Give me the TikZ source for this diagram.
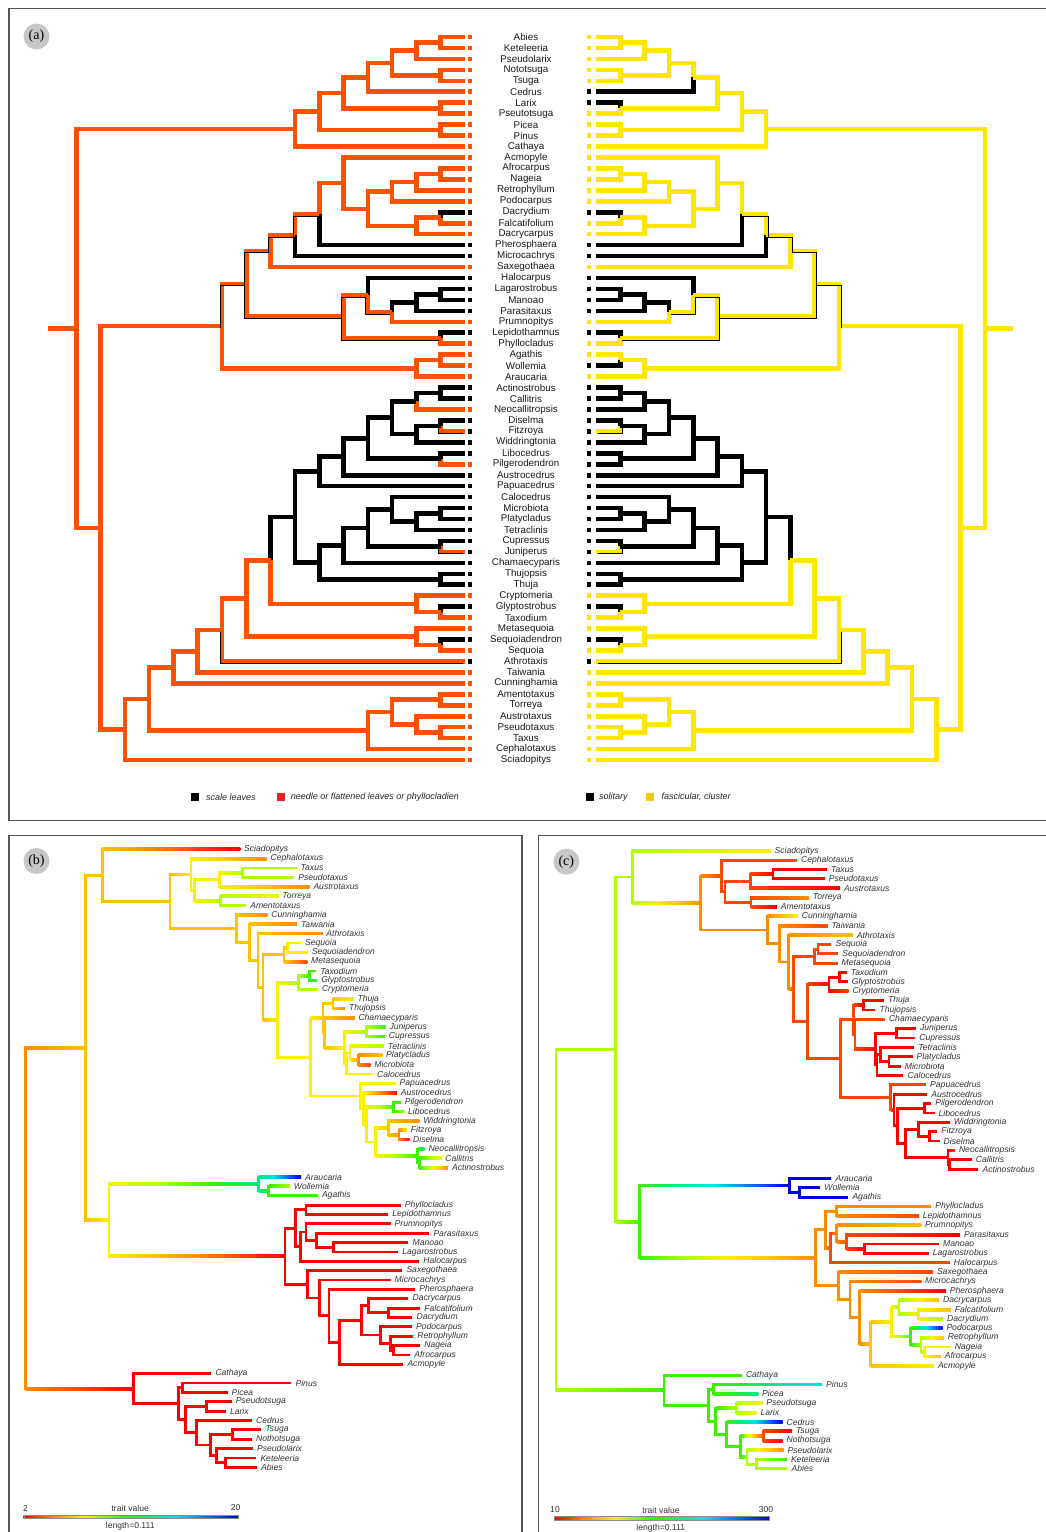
\documentclass[tikz,border=0pt]{standalone}
\usepackage{fontspec}
\setmainfont{Liberation Serif}
\setsansfont{Liberation Sans}

% colours
\definecolor{needle}{RGB}{255,82,0}
\definecolor{fasc}{RGB}{255,230,0}
\definecolor{needlekey}{RGB}{232,32,40}
\definecolor{fasckey}{RGB}{242,200,20}
\definecolor{framegray}{RGB}{85,85,85}
\definecolor{pal0}{RGB}{255,0,0}
\definecolor{pal1}{RGB}{255,70,0}
\definecolor{pal2}{RGB}{255,140,0}
\definecolor{pal3}{RGB}{255,195,0}
\definecolor{pal4}{RGB}{250,240,0}
\definecolor{pal5}{RGB}{175,255,0}
\definecolor{pal6}{RGB}{60,240,0}
\definecolor{pal7}{RGB}{0,235,130}
\definecolor{pal8}{RGB}{0,225,235}
\definecolor{pal9}{RGB}{0,110,245}
\definecolor{pal10}{RGB}{0,0,230}
\pgfdeclarehorizontalshading{rainbowbar}{100bp}{color(0bp)=(pal0); color(25bp)=(pal0); color(32bp)=(pal2); color(39bp)=(pal4); color(48bp)=(pal6); color(60bp)=(pal8); color(75bp)=(pal10); color(100bp)=(pal10)}

\makeatletter
\newcommand\tiplist{}
\newcommand\edgelist{}
% a tip: key, row in (a), label in (a), x in (b), colour step in (b), (c), state left, right
\newcommand\taxon[8]{%
  \@namedef{I#1}{#2}\@namedef{K#1}{0}\@namedef{LA#1}{#3}%
  \@namedef{XB#1}{#4}\@namedef{VB#1}{#5}\@namedef{VC#1}{#6}%
  \@namedef{SL#1}{#7}\@namedef{SR#1}{#8}%
  \g@addto@macro\tiplist{\dotip{#1}}}
% an inner node: name, two children, x in (b), colour steps, states
\newcommand\clade[8]{%
  \pgfmathsetmacro\tmpv{(\@nameuse{I#2}+\@nameuse{I#3})/2}%
  \expandafter\let\csname I#1\endcsname\tmpv
  \pgfmathsetmacro\tmpv{max(\@nameuse{K#2},\@nameuse{K#3})+1}%
  \expandafter\let\csname K#1\endcsname\tmpv
  \@namedef{XB#1}{#4}\@namedef{VB#1}{#5}\@namedef{VC#1}{#6}%
  \@namedef{SL#1}{#7}\@namedef{SR#1}{#8}%
  \g@addto@macro\edgelist{\doedge{#1}{#2}\doedge{#1}{#3}}}

\def\colLo{needle}\def\colLk{black}\def\colLt{needle}
\def\colRy{fasc}\def\colRk{black}\def\colRt{fasc}
\def\sqo{needle}\def\sqy{fasc}\def\sqk{black}\def\sqt{black}

% panel (a): cladogram edge
\newcommand\aedge[3]{%
  \pgfmathsetmacro\xp{465-24.3*\@nameuse{K#1}}%
  \pgfmathsetmacro\yp{37+10.955*\@nameuse{I#1}}%
  \pgfmathsetmacro\xc{465-24.3*\@nameuse{K#2}}%
  \pgfmathsetmacro\yc{37+10.955*\@nameuse{I#2}}%
  \edef\brst{\@nameuse{S#3#2}}\edef\brcol{\@nameuse{col#3\brst}}%
  \draw[abranch, draw=\brcol] (\xp,\yp) -- (\xp,\yc) -- (\xc,\yc);}
\newcommand\athin[3]{%
  \edef\brst{\@nameuse{S#3#2}}%
  \if t\brst
    \pgfmathsetmacro\xp{465-24.3*\@nameuse{K#1}}%
    \pgfmathsetmacro\yp{37+10.955*\@nameuse{I#1}}%
    \pgfmathsetmacro\xc{465-24.3*\@nameuse{K#2}}%
    \pgfmathsetmacro\yc{37+10.955*\@nameuse{I#2}}%
    \draw[athinline, xshift=-2pt, yshift=-1.8pt] (\xp,\yp) -- (\xp,\yc) -- (\xc,\yc);
  \fi}
\newcommand\atip[1]{%
  \pgfmathsetmacro\yc{37+10.955*\@nameuse{I#1}}%
  \node[alabel] (a#1) at (526,\yc) {\@nameuse{LA#1}};
  \edef\brst{\@nameuse{SL#1}}\edef\brcol{\@nameuse{sq\brst}}%
  \fill[fill=\brcol] (467.8,{\yc-2.3}) rectangle (472.4,{\yc+2.3});
  \edef\brst{\@nameuse{SR#1}}\edef\brcol{\@nameuse{sq\brst}}%
  \fill[fill=\brcol] (586.6,{\yc-2.3}) rectangle (591.2,{\yc+2.3});}

% panels (b), (c): phylogram edge shaded step by step
\newcommand\bedge[3]{%
  \pgfmathsetmacro\xp{\@nameuse{XB#1}}%
  \pgfmathsetmacro\yp{1467.3-9.364*\@nameuse{I#1}}%
  \pgfmathsetmacro\xc{\@nameuse{XB#2}}%
  \pgfmathsetmacro\yc{1467.3-9.364*\@nameuse{I#2}}%
  \edef\cva{\@nameuse{#3#1}}\edef\cvb{\@nameuse{#3#2}}%
  \draw[bbranch, draw=pal\cva] (\xp,\yp) -- (\xp,\yc);
  \pgfmathtruncatemacro\nst{abs(\cvb-\cva)}%
  \ifnum\nst=0
    \fill[fill=pal\cva] (\xp,{\yc-1.4}) rectangle (\xc,{\yc+1.4});
  \else
    \pgfmathtruncatemacro\sgn{ifthenelse(\cvb>\cva,1,-1)}%
    \foreach \s in {1,...,\nst}{%
      \pgfmathsetmacro\xa{\xp+(\s-1)*(\xc-\xp)/\nst}%
      \pgfmathsetmacro\xz{\xp+\s*(\xc-\xp)/\nst}%
      \pgfmathtruncatemacro\ca{\cva+(\s-1)*\sgn}%
      \pgfmathtruncatemacro\cz{\cva+\s*\sgn}%
      \shade[left color=pal\ca, right color=pal\cz] (\xa,{\yc-1.4}) rectangle ({\xz+0.3},{\yc+1.4});
    }%
  \fi}
\newcommand\btip[2]{%
  \pgfmathsetmacro\xc{\@nameuse{XB#2}+4}%
  \pgfmathsetmacro\yc{1467.3-9.364*\@nameuse{I#2}}%
  \node[blabel] (#1#2) at (\xc,\yc) {#2};}
\makeatother

% tips
\taxon{Abies}{0}{Abies}{256.9}{0}{5}{o}{y}
\taxon{Keteleeria}{1}{Keteleeria}{256.3}{0}{6}{o}{y}
\taxon{Pseudolarix}{2}{Pseudolarix}{252.9}{0}{2}{o}{y}
\taxon{Nothotsuga}{3}{Nototsuga}{251.9}{0}{0}{o}{y}
\taxon{Tsuga}{4}{Tsuga}{261.3}{0}{0}{o}{y}
\taxon{Cedrus}{5}{Cedrus}{251.9}{0}{10}{o}{k}
\taxon{Larix}{6}{Larix}{225.8}{0}{4}{o}{k}
\taxon{Pseudotsuga}{7}{Pseutotsuga}{231.6}{0}{4}{o}{y}
\taxon{Picea}{8}{Picea}{227.5}{0}{7}{o}{y}
\taxon{Pinus}{9}{Pinus}{291.4}{0}{8}{o}{y}
\taxon{Cathaya}{10}{Cathaya}{211.3}{0}{6}{o}{y}
\taxon{Acmopyle}{11}{Acmopyle}{403.3}{0}{4}{o}{y}
\taxon{Afrocarpus}{12}{Afrocarpus}{410.1}{0}{3}{o}{y}
\taxon{Nageia}{13}{Nageia}{420.2}{0}{4}{o}{y}
\taxon{Retrophyllum}{14}{Retrophyllum}{413.1}{0}{3}{o}{y}
\taxon{Podocarpus}{15}{Podocarpus}{411.8}{0}{10}{o}{y}
\taxon{Dacrydium}{16}{Dacrydium}{412.4}{0}{5}{k}{k}
\taxon{Falcatifolium}{17}{Falcatifolium}{420.2}{0}{3}{o}{y}
\taxon{Dacrycarpus}{18}{Dacrycarpus}{408.4}{0}{3}{o}{y}
\taxon{Pherosphaera}{19}{Pherosphaera}{415.1}{0}{0}{k}{k}
\taxon{Microcachrys}{20}{Microcachrys}{390.5}{0}{1}{k}{k}
\taxon{Saxegothaea}{21}{Saxegothaea}{402.3}{0}{1}{o}{y}
\taxon{Halocarpus}{22}{Halocarpus}{419.2}{0}{1}{k}{k}
\taxon{Lagarostrobus}{23}{Lagarostrobus}{398.2}{0}{0}{k}{k}
\taxon{Manoao}{24}{Manoao}{408.4}{0}{0}{k}{k}
\taxon{Parasitaxus}{25}{Parasitaxus}{429.3}{0}{0}{k}{k}
\taxon{Prumnopitys}{26}{Prumnopitys}{390.5}{0}{3}{o}{y}
\taxon{Lepidothamnus}{27}{Lepidothamnus}{388.1}{0}{1}{k}{k}
\taxon{Phyllocladus}{28}{Phyllocladus}{400.6}{0}{2}{o}{y}
\taxon{Agathis}{29}{Agathis}{317.8}{6}{10}{o}{y}
\taxon{Wollemia}{30}{Wollemia}{289.7}{5}{10}{o}{k}
\taxon{Araucaria}{31}{Araucaria}{300.9}{10}{10}{o}{y}
\taxon{Actinostrobus}{32}{Actinostrobus}{447.9}{2}{0}{k}{k}
\taxon{Callitris}{33}{Callitris}{441.2}{4}{0}{k}{k}
\taxon{Neocallitropsis}{34}{Neocallitropsis}{424.3}{7}{1}{o}{k}
\taxon{Diselma}{35}{Diselma}{409}{0}{0}{k}{k}
\taxon{Fitzroya}{36}{Fitzroya}{406.7}{4}{0}{t}{t}
\taxon{Widdringtonia}{37}{Widdringtonia}{419.2}{2}{0}{k}{k}
\taxon{Libocedrus}{38}{Libocedrus}{404}{5}{0}{k}{k}
\taxon{Pilgerodendron}{39}{Pilgerodendron}{400.6}{6}{0}{o}{k}
\taxon{Austrocedrus}{40}{Austrocedrus}{396.6}{0}{0}{k}{k}
\taxon{Papuacedrus}{41}{Papuacedrus}{395.5}{4}{1}{k}{k}
\taxon{Calocedrus}{42}{Calocedrus}{372.9}{4}{0}{k}{k}
\taxon{Microbiota}{43}{Microbiota}{370.2}{1}{0}{k}{k}
\taxon{Platycladus}{44}{Platycladus}{382}{3}{0}{k}{k}
\taxon{Tetraclinis}{45}{Tetraclinis}{383.7}{5}{0}{k}{k}
\taxon{Cupressus}{46}{Cupressus}{384.7}{6}{0}{k}{k}
\taxon{Juniperus}{47}{Juniperus}{385.4}{6}{0}{t}{t}
\taxon{Chamaecyparis}{48}{Chamaecyparis}{354.3}{2}{1}{k}{k}
\taxon{Thujopsis}{49}{Thujopsis}{344.8}{2}{0}{k}{k}
\taxon{Thuja}{50}{Thuja}{353.3}{4}{0}{k}{k}
\taxon{Cryptomeria}{51}{Cryptomeria}{317.8}{5}{1}{o}{y}
\taxon{Glyptostrobus}{52}{Glyptostrobus}{317.1}{6}{0}{k}{k}
\taxon{Taxodium}{53}{Taxodium}{316.1}{6}{0}{o}{y}
\taxon{Metasequoia}{54}{Metasequoia}{307}{1}{1}{o}{y}
\taxon{Sequoiadendron}{55}{Sequoiadendron}{307.6}{4}{1}{k}{k}
\taxon{Sequoia}{56}{Sequoia}{300.9}{4}{1}{o}{y}
\taxon{Athrotaxis}{57}{Athrotaxis}{322.2}{2}{3}{t}{t}
\taxon{Taiwania}{58}{Taiwania}{296.8}{2}{1}{o}{y}
\taxon{Cunninghamia}{59}{Cunninghamia}{267.1}{2}{4}{o}{y}
\taxon{Amentotaxus}{60}{Amentotaxus}{246.1}{5}{0}{o}{y}
\taxon{Torreya}{61}{Torreya}{278.2}{4}{2}{o}{y}
\taxon{Austrotaxus}{62}{Austrotaxus}{309.3}{2}{0}{o}{y}
\taxon{Pseudotaxus}{63}{Pseudotaxus}{294.1}{5}{0}{o}{y}
\taxon{Taxus}{64}{Taxus}{296.5}{5}{0}{o}{y}
\taxon{Cephalotaxus}{65}{Cephalotaxus}{266.4}{2}{1}{o}{y}
\taxon{Sciadopitys}{66}{Sciadopitys}{240}{0}{4}{o}{y}

% Pinaceae
\clade{nAK}{Abies}{Keteleeria}{225.8}{0}{5}{o}{y}
\clade{nAKP}{nAK}{Pseudolarix}{216.4}{0}{5}{o}{y}
\clade{nNT}{Nothotsuga}{Tsuga}{232.6}{0}{1}{o}{y}
\clade{nPone}{nAKP}{nNT}{210.3}{0}{6}{o}{y}
\clade{nPtwo}{nPone}{Cedrus}{196.1}{0}{6}{o}{y}
\clade{nLP}{Larix}{Pseudotsuga}{206.2}{0}{5}{o}{y}
\clade{nPthree}{nPtwo}{nLP}{185.3}{0}{6}{o}{y}
\clade{nPP}{Picea}{Pinus}{182.6}{0}{6}{o}{y}
\clade{nPfour}{nPthree}{nPP}{178.2}{0}{6}{o}{y}
\clade{nPin}{nPfour}{Cathaya}{133.5}{0}{6}{o}{y}
% Podocarpaceae and Araucariaceae
\clade{nAN}{Afrocarpus}{Nageia}{393.8}{0}{4}{o}{y}
\clade{nANR}{nAN}{Retrophyllum}{390.5}{0}{5}{o}{y}
\clade{nANRP}{nANR}{Podocarpus}{380.3}{0}{6}{o}{y}
\clade{nDF}{Dacrydium}{Falcatifolium}{388.1}{0}{4}{o}{y}
\clade{nDFD}{nDF}{Dacrycarpus}{368.5}{0}{5}{o}{y}
\clade{nCore}{nANRP}{nDFD}{361.1}{0}{4}{o}{y}
\clade{nAcm}{Acmopyle}{nCore}{339.8}{0}{3}{o}{y}
\clade{nPhe}{nAcm}{Pherosphaera}{328.9}{0}{2}{t}{t}
\clade{nMic}{nPhe}{Microcachrys}{319.5}{0}{2}{t}{t}
\clade{nSax}{nMic}{Saxegothaea}{307.6}{0}{2}{t}{t}
\clade{nLM}{Lagarostrobus}{Manoao}{333.7}{0}{0}{k}{k}
\clade{nLMP}{nLM}{Parasitaxus}{316.1}{0}{1}{k}{k}
\clade{nLMPP}{nLMP}{Prumnopitys}{306}{0}{2}{t}{t}
\clade{nHal}{Halocarpus}{nLMPP}{300.2}{0}{1}{t}{t}
\clade{nLPh}{Lepidothamnus}{Phyllocladus}{306}{0}{2}{t}{t}
\clade{nPrum}{nHal}{nLPh}{295.1}{0}{2}{t}{t}
\clade{nPodo}{nSax}{nPrum}{285}{0}{2}{t}{t}
\clade{nAg}{Agathis}{Wollemia}{268.8}{6}{10}{o}{y}
\clade{nArau}{nAg}{Araucaria}{258.6}{7}{10}{o}{y}
\clade{nPA}{nPodo}{nArau}{108.9}{4}{6}{o}{y}
% Cupressaceae, Taxaceae, Sciadopitys
\clade{nAC}{Actinostrobus}{Callitris}{419.2}{6}{0}{k}{k}
\clade{nCal}{nAC}{Neocallitropsis}{417.5}{6}{0}{k}{k}
\clade{nFD}{Diselma}{Fitzroya}{398.9}{2}{0}{k}{k}
\clade{nDis}{nFD}{Widdringtonia}{388.1}{3}{0}{k}{k}
\clade{nCD}{nCal}{nDis}{375.3}{4}{0}{k}{k}
\clade{nLib}{Libocedrus}{Pilgerodendron}{393.8}{6}{0}{k}{k}
\clade{nLCD}{nCD}{nLib}{366.8}{4}{0}{k}{k}
\clade{nAus}{nLCD}{Austrocedrus}{363.4}{4}{0}{k}{k}
\clade{nPap}{nAus}{Papuacedrus}{360}{4}{1}{k}{k}
\clade{nMP}{Microbiota}{Platycladus}{358.4}{2}{0}{k}{k}
\clade{nTet}{nMP}{Tetraclinis}{349.9}{4}{0}{k}{k}
\clade{nCalo}{Calocedrus}{nTet}{346.5}{4}{0}{k}{k}
\clade{nCJ}{Cupressus}{Juniperus}{366.1}{5}{0}{k}{k}
\clade{nCC}{nCalo}{nCJ}{344.8}{4}{0}{k}{k}
\clade{nCham}{nCC}{Chamaecyparis}{324.5}{3}{1}{k}{k}
\clade{nTT}{Thujopsis}{Thuja}{333}{3}{0}{k}{k}
\clade{nCup}{nCham}{nTT}{322.9}{3}{1}{k}{k}
\clade{nCallCup}{nPap}{nCup}{310.3}{4}{1}{k}{k}
\clade{nGT}{Glyptostrobus}{Taxodium}{309.3}{6}{0}{o}{y}
\clade{nTaxod}{Cryptomeria}{nGT}{298.5}{5}{0}{o}{y}
\clade{nCT}{nCallCup}{nTaxod}{277.2}{4}{1}{o}{y}
\clade{nSS}{Sequoiadendron}{Sequoia}{287.4}{4}{1}{o}{y}
\clade{nSeq}{Metasequoia}{nSS}{284}{3}{1}{o}{y}
\clade{nCTS}{nCT}{nSeq}{263}{3}{1}{o}{y}
\clade{nAth}{nCTS}{Athrotaxis}{257.9}{3}{2}{o}{y}
\clade{nTai}{nAth}{Taiwania}{249.2}{3}{2}{o}{y}
\clade{nCun}{nTai}{Cunninghamia}{236.7}{3}{2}{o}{y}
\clade{nAT}{Amentotaxus}{Torreya}{220.4}{5}{1}{o}{y}
\clade{nPT}{Pseudotaxus}{Taxus}{242.4}{5}{0}{o}{y}
\clade{nAPT}{Austrotaxus}{nPT}{219.7}{4}{1}{o}{y}
\clade{nTx}{nAT}{nAPT}{194.4}{4}{1}{o}{y}
\clade{nCeph}{nTx}{Cephalotaxus}{191}{4}{1}{o}{y}
\clade{nCupTax}{nCun}{nCeph}{170}{3}{2}{o}{y}
\clade{nSci}{nCupTax}{Sciadopitys}{102.1}{3}{5}{o}{y}
\clade{nRest}{nPA}{nSci}{85.2}{3}{5}{o}{y}
\clade{nRoot}{nPin}{nRest}{25.4}{2}{5}{o}{y}

\begin{document}
\begin{tikzpicture}[x=1pt, y=-1pt,
    frame/.style={draw=framegray, line width=1.4pt},
    abranch/.style={line width=4.6pt, line join=miter},
    athinline/.style={draw=black, line width=0.8pt},
    bbranch/.style={line width=2.8pt, line cap=rect},
    alabel/.style={font=\sffamily\fontsize{9.8}{10}\selectfont, text=black!90, inner sep=0pt},
    blabel/.style={anchor=west, font=\sffamily\itshape\fontsize{8.6}{9}\selectfont, text=black!80, inner sep=0pt},
    keytext/.style={anchor=west, font=\sffamily\itshape\fontsize{9}{9}\selectfont, text=black!85, inner sep=0pt},
    bartext/.style={font=\sffamily\fontsize{8.6}{9}\selectfont, text=black!80, inner sep=0pt},
    panel/.style={circle, fill=black!22, minimum size=26pt, inner sep=0pt, font=\fontsize{14}{14}\selectfont}]
  \useasboundingbox (0,0) rectangle (1046,1532);
  % frames
  \draw[frame] (9,8.5) rectangle (1054,820.5);
  \draw[frame] (9,835.5) rectangle (522,1546);
  \draw[frame] (538.5,835.5) rectangle (1054,1546);
  \node[panel] (pa) at (36.5,36.5) {(a)};
  \node[panel] (pb) at (36.5,861) {(b)};
  \node[panel] (pc) at (566.3,861.7) {(c)};
  % (a) leaf type, left
  \pgfmathsetmacro\yroot{37+10.955*\csname InRoot\endcsname}
  \draw[abranch, needle] (48.3,\yroot) -- (76.2,\yroot);
  \def\doedge#1#2{\aedge{#1}{#2}{L}}
  \edgelist
  \def\doedge#1#2{\athin{#1}{#2}{L}}
  \edgelist
  % (a) leaf arrangement, right (mirrored)
  \begin{scope}[xshift=1061pt, xscale=-1]
    \draw[abranch, fasc] (48.3,\yroot) -- (76.2,\yroot);
    \def\doedge#1#2{\aedge{#1}{#2}{R}}
    \edgelist
    \def\doedge#1#2{\athin{#1}{#2}{R}}
    \edgelist
  \end{scope}
  \def\dotip#1{\atip{#1}}
  \tiplist
  % (a) keys
  \fill[black] (191,793.3) rectangle (199,800.7);
  \node[keytext] (kscale) at (206,797) {scale leaves};
  \fill[needlekey] (277,793.3) rectangle (285,800.7);
  \node[keytext] (kneedle) at (290.7,797) {needle or flattened leaves or phyllocladien};
  \fill[black] (585.5,793.3) rectangle (593.5,800.7);
  \node[keytext] (ksolitary) at (598.8,797) {solitary};
  \fill[fasckey] (645.5,793.3) rectangle (653.5,800.7);
  \node[keytext] (kfasc) at (661.4,797) {fascicular, cluster};
  % (b)
  \def\doedge#1#2{\bedge{#1}{#2}{VB}}
  \edgelist
  \def\dotip#1{\btip{b}{#1}}
  \tiplist
  \shade[shading=rainbowbar, draw=black!45, line width=0.4pt] (23.7,1515) rectangle (238.3,1518.6);
  \node[bartext] (blo) at (25.4,1508) {2};
  \node[bartext] (bmid) at (130.2,1508) {trait value};
  \node[bartext] (bhi) at (235.6,1508) {20};
  \node[bartext] (blen) at (130.2,1526.7) {length=0.111};
  % (c), same tree shifted
  \begin{scope}[xshift=530.5pt, yshift=-1.5pt]
    \def\doedge#1#2{\bedge{#1}{#2}{VC}}
    \edgelist
    \def\dotip#1{\btip{c}{#1}}
    \tiplist
  \end{scope}
  \shade[shading=rainbowbar, draw=black!45, line width=0.4pt] (554,1516.6) rectangle (769,1520.2);
  \node[bartext] (clo) at (555,1510) {10};
  \node[bartext] (cmid) at (661,1510) {trait value};
  \node[bartext] (chi) at (766,1510) {300};
  \node[bartext] (clen) at (660.7,1528) {length=0.111};
\end{tikzpicture}
\end{document}
